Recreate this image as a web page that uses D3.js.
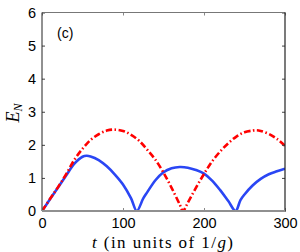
<!DOCTYPE html>
<html><head><meta charset="utf-8">
<script src="https://cdn.jsdelivr.net/npm/d3@7"></script>
<style>body{margin:0;background:#fff;} svg{display:block;}</style>
</head><body>
<svg id="c" width="300" height="252"></svg>
<script>
const xTicks = [0, 100, 200, 300];
const yTicks = [0, 1, 2, 3, 4, 5, 6];
const blueT = [0,10,20,30,40,50,55,60,70,80,90,100,110,117,125,130,140,150,160,170,180,190,200,210,220,230,239,245,250,260,270,280,290,300];
const blueE = [0,0.36,0.72,1.08,1.43,1.64,1.67,1.65,1.54,1.35,1.1,0.8,0.38,0.0,0.38,0.57,0.93,1.17,1.29,1.33,1.31,1.24,1.13,0.92,0.63,0.3,0.0,0.33,0.5,0.77,0.97,1.11,1.2,1.28];
const redT = [0,10,20,30,40,50,60,70,80,88,100,110,120,130,140,150,160,170,174,180,190,200,210,220,230,240,250,260,265,270,280,290,300];
const redE = [0,0.37,0.73,1.12,1.55,1.88,2.15,2.32,2.43,2.46,2.42,2.3,2.12,1.85,1.55,1.16,0.7,0.2,0.0,0.25,0.7,1.12,1.5,1.8,2.05,2.25,2.38,2.43,2.44,2.42,2.33,2.18,1.97];

const svg = d3.select("#c");
const L = 42, R = 285, T = 12.5, B = 211;
const x = d3.scaleLinear().domain([0, 300]).range([L, R]);
const y = d3.scaleLinear().domain([0, 6]).range([B, T]);
const font = "Liberation Sans, Arial, sans-serif";

svg.append("defs").append("clipPath").attr("id","clip")
  .append("rect").attr("x", L).attr("y", T).attr("width", R-L).attr("height", B-T);

const line = d3.line().x(d => x(d[0])).y(d => y(d[1])).curve(d3.curveCatmullRom.alpha(0.5));
const g = svg.append("g").attr("clip-path","url(#clip)");
g.append("path").datum(blueT.map((t,i)=>[t, blueE[i]]))
  .attr("d", line).attr("fill","none").attr("stroke","#2a46f4").attr("stroke-width",2.6);
g.append("path").datum(redT.map((t,i)=>[t, redE[i]]))
  .attr("d", line).attr("fill","none").attr("stroke","#ff0000").attr("stroke-width",2.6)
  .attr("stroke-dasharray","6.5,2.5,1.5,2.5");

// axes
const ax = svg.append("g");
ax.append("g").attr("transform",`translate(0,${B})`)
  .call(d3.axisBottom(x).tickValues(xTicks).tickSize(-3).tickPadding(7).tickFormat(d3.format("d")))
  .call(s => { s.select(".domain").remove(); s.selectAll("line").attr("stroke","#888");
    s.selectAll("text").attr("font-family",font).attr("font-size",14.5).attr("fill","#000"); });
ax.append("g").attr("transform",`translate(${L},0)`)
  .call(d3.axisLeft(y).tickValues(yTicks).tickSize(-3).tickPadding(6).tickFormat(d3.format("d")))
  .call(s => { s.select(".domain").remove(); s.selectAll("line").attr("stroke","#444");
    s.selectAll("text").attr("font-family",font).attr("font-size",14.5).attr("fill","#000"); });
// mirror ticks
ax.append("g").attr("transform",`translate(0,${T})`)
  .call(d3.axisTop(x).tickValues(xTicks).tickSize(-3).tickFormat(""))
  .call(s => { s.select(".domain").remove(); s.selectAll("line").attr("stroke","#888"); });
ax.append("g").attr("transform",`translate(${R},0)`)
  .call(d3.axisRight(y).tickValues(yTicks).tickSize(-3).tickFormat(""))
  .call(s => { s.select(".domain").remove(); s.selectAll("line").attr("stroke","#444"); });

// frame
svg.append("line").attr("x1",L).attr("x2",R).attr("y1",T).attr("y2",T).attr("stroke","#777").attr("stroke-width",1);
svg.append("line").attr("x1",L).attr("x2",L).attr("y1",T).attr("y2",B).attr("stroke","#222").attr("stroke-width",1);
svg.append("line").attr("x1",R).attr("x2",R).attr("y1",T).attr("y2",B+1).attr("stroke","#222").attr("stroke-width",1.2);
svg.append("line").attr("x1",L).attr("x2",R).attr("y1",B).attr("y2",B).attr("stroke","#909090").attr("stroke-width",2);

// labels
svg.append("text").attr("x",57).attr("y",38).attr("font-family",font).attr("font-size",14).text("(c)");
const xl = svg.append("text").attr("x",92).attr("y",248)
  .attr("textLength",141).attr("lengthAdjust","spacing")
  .attr("font-family","Liberation Serif, 'DejaVu Serif', serif").attr("font-size",17);
xl.append("tspan").attr("font-style","italic").text("t");
xl.append("tspan").text(" (in units of 1/");
xl.append("tspan").attr("font-style","italic").text("g");
xl.append("tspan").text(")");
const yl = svg.append("text").attr("transform","translate(19,113) rotate(-90)").attr("text-anchor","middle")
  .attr("font-family","Liberation Serif, 'DejaVu Serif', serif").attr("font-size",18).attr("font-style","italic");
yl.append("tspan").text("E");
yl.append("tspan").attr("font-size",12).attr("dy",3).text("N");
</script>
</body></html>
